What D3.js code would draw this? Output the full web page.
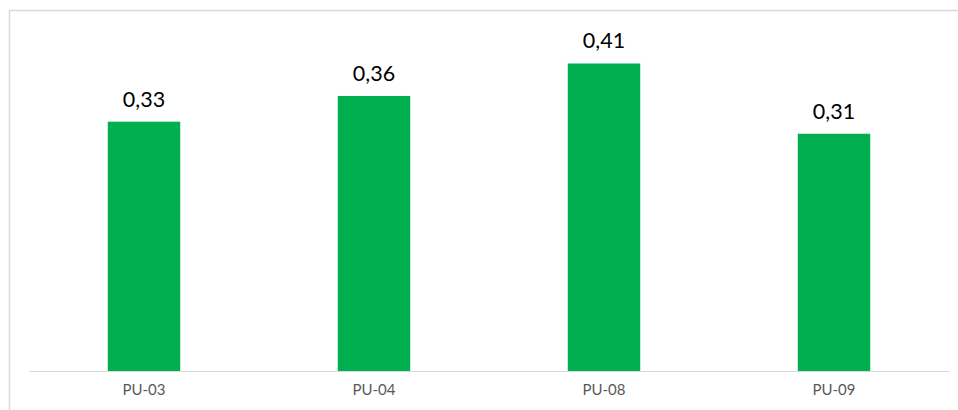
<!DOCTYPE html>
<html>
<head>
<meta charset="utf-8">
<script src="https://cdn.jsdelivr.net/npm/d3@7"></script>
<style>
  body { margin: 0; background: #fff; }
</style>
</head>
<body>
<div id="chart"></div>
<script>
var width = 958,
    height = 410

var categories = ["PU-03", "PU-04", "PU-08", "PU-09"]
var values = [0.33, 0.364, 0.407, 0.314]

var margin = {left: 29, right: 9, top: 31, bottom: 39}

var svg = d3.select("#chart")
  .append("svg")
    .attr("width", width)
    .attr("height", height)

// chart frame (runs off right / bottom edge)
svg.append("rect")
  .attr("x", 9.5)
  .attr("y", 10.5)
  .attr("width", 960)
  .attr("height", 420)
  .attr("fill", "white")
  .attr("stroke", "#d9d9d9")
  .attr("stroke-width", 1.5)

var x = d3.scaleBand()
  .domain(categories)
  .range([margin.left, width - margin.right])
  .paddingInner(0.685)
  .paddingOuter(0.3425)

var y = d3.scaleLinear()
  .domain([0, 0.45])
  .range([height - margin.bottom, margin.top])

svg.selectAll("bars")
  .data(values)
  .enter()
  .append("rect")
    .attr("x", function(d, i) { return x(categories[i]) })
    .attr("y", function(d) { return y(d) })
    .attr("width", x.bandwidth())
    .attr("height", function(d) { return y(0) - y(d) })
    .attr("fill", "#00b050")

var fmt = d3.formatLocale({decimal: ",", thousands: ".", grouping: [3], currency: ["", "€"]}).format(".2f")

svg.selectAll("labels")
  .data(values)
  .enter()
  .append("text")
    .attr("x", function(d, i) { return x(categories[i]) + x.bandwidth() / 2 })
    .attr("y", function(d) { return y(d) - 15 })
    .attr("text-anchor", "middle")
    .style("font-family", "Lato, 'Open Sans', sans-serif")
    .style("font-size", "21.5px")
    .attr("fill", "#000")
    .text(function(d) { return fmt(d) })

var xAxis = svg.append("g")
  .attr("transform", "translate(0," + y(0) + ")")
  .call(d3.axisBottom(x).tickSize(0).tickPadding(13))

xAxis.select(".domain").attr("stroke", "#d9d9d9").attr("stroke-width", 1.2)
xAxis.selectAll("text")
  .style("font-family", "Lato, 'Open Sans', sans-serif")
  .style("font-size", "15px")
  .attr("fill", "#595959")
</script>
</body>
</html>
